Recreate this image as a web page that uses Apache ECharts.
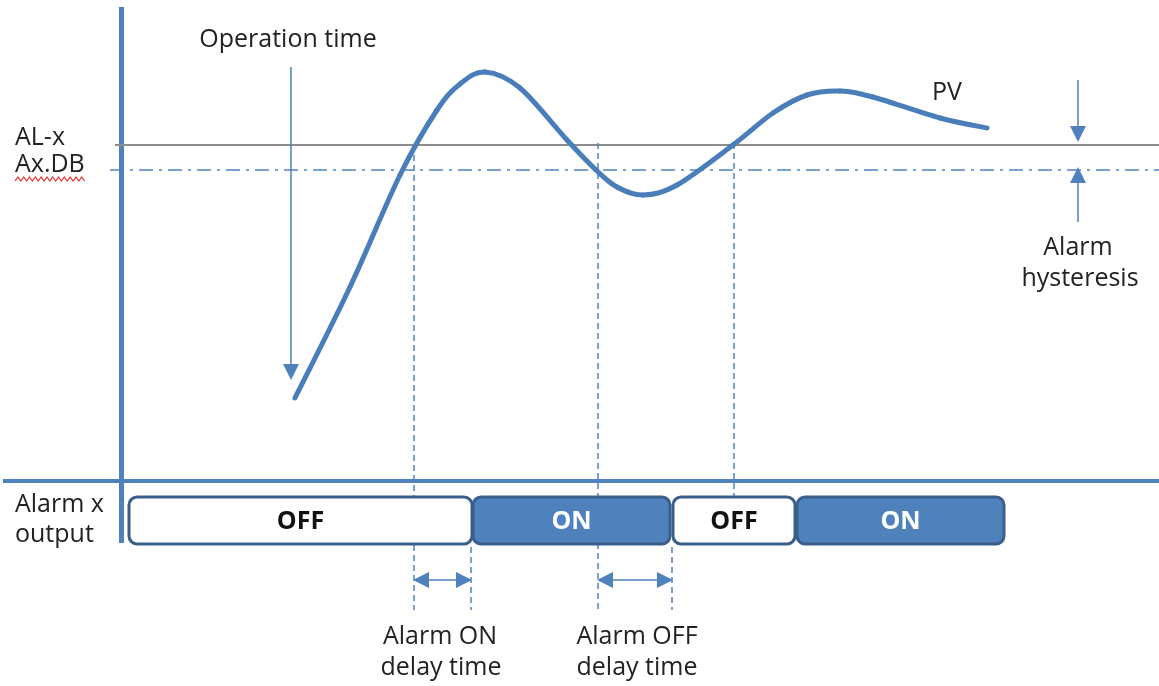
<!DOCTYPE html>
<html><head><meta charset="utf-8">
<script src="https://cdn.jsdelivr.net/npm/echarts@6/dist/echarts.min.js"></script>
<style>html,body{margin:0;padding:0;background:#fff}#c{width:1159px;height:686px}</style>
</head><body><div id="c"></div>
<script>
// PV curve (pixel-like units, y grows downward)
const pvX = [295, 350, 400, 437, 460, 485, 520, 567, 596, 617, 643, 677, 733, 773, 807, 840, 873, 940, 987];
const pvY = [398, 287, 175, 110, 84, 72, 88, 140, 170, 187, 195, 185, 145, 113, 95, 91, 97, 118, 128];
// levels
const alarmLevel = 145;      // AL-x
const hysteresisLevel = 170; // Ax.DB
// alarm output segments
const segStart = [129, 473, 673, 797];
const segEnd = [472, 670, 795, 1004];
const segState = ['OFF', 'ON', 'OFF', 'ON'];
// event times (vertical dashed lines)
const onCross = 414, onOut = 471, offCross = 598, offOut = 672, reCross = 734;

const BLUE = '#4f81bd', DARK = '#3a5f8c', PVC = '#4a7ebb';
const FONT = '"Open Sans", "DejaVu Sans", sans-serif';

const chart = echarts.init(document.getElementById('c'), null, {renderer: 'canvas'});

function ln(coords, style, symbol) {
  return {coords: coords, lineStyle: style, symbol: symbol || ['none', 'none']};
}
const dash = {color: BLUE, width: 1.5, type: [6, 4], opacity: 1};
const thin = {color: BLUE, width: 1.5, opacity: 1};

function txt(text, x, y, align) {
  return {type: 'text', x: x, y: y, style: {text: text, font: '25px ' + FONT, fill: '#222', align: align || 'center', verticalAlign: 'middle'}};
}

// red spell-check squiggle under Ax.DB
const squig = [];
for (let i = 0; i <= 24; i++) squig.push([15 + i * 2.9, 179 + (i % 2 ? -2 : 2)]);

function pvPoint(i, api) {
  const k = Math.max(0, Math.min(pvX.length - 1, i));
  return api.coord([pvX[k], pvY[k]]);
}

chart.setOption({
  animation: false,
  grid: {left: 0, right: 0, top: 0, bottom: 0, containLabel: false},
  xAxis: {type: 'value', min: 0, max: 1159, show: false},
  yAxis: {type: 'value', min: 0, max: 686, inverse: true, show: false},
  series: [
    {
      type: 'lines', coordinateSystem: 'cartesian2d', polyline: false, z: 1,
      data: [
        ln([[3, 481], [1159, 481]], {color: BLUE, width: 4, opacity: 1}),
        ln([[121, 7], [121, 543]], {color: BLUE, width: 5, opacity: 1}),
        ln([[115, alarmLevel], [1159, alarmLevel]], {color: '#8c8c8c', width: 2, opacity: 1}),
        ln([[110, hysteresisLevel], [1159, hysteresisLevel]], {color: BLUE, width: 1.5, type: [14, 6, 3, 6], opacity: 1}),
        ln([[onCross, 155], [onCross, 610]], dash),
        ln([[onOut, 547], [onOut, 610]], dash),
        ln([[offCross, 143], [offCross, 610]], dash),
        ln([[offOut, 547], [offOut, 610]], dash),
        ln([[reCross, 143], [reCross, 497]], dash)
      ]
    },
    {
      type: 'lines', coordinateSystem: 'cartesian2d', polyline: false, z: 3,
      symbolSize: 16,
      data: [
        ln([[291, 67], [291, 372]], thin, ['none', 'triangle']),
        ln([[1078, 80], [1078, 134]], thin, ['none', 'triangle']),
        ln([[1078, 222], [1078, 175]], thin, ['none', 'triangle']),
        ln([[421, 580], [464, 580]], thin, ['triangle', 'triangle']),
        ln([[605, 580], [665, 580]], thin, ['triangle', 'triangle'])
      ]
    },
    {
      // PV curve: Catmull-Rom spline through the read points, placed via the axes
      type: 'custom', name: 'PV', z: 4,
      data: pvX.map((x, i) => [x, pvY[i]]),
      encode: {x: 0, y: 1},
      renderItem: function (params, api) {
        const i = params.dataIndex;
        if (i >= pvX.length - 1) return null;
        const p0 = pvPoint(i - 1, api), p1 = pvPoint(i, api), p2 = pvPoint(i + 1, api), p3 = pvPoint(i + 2, api);
        return {
          type: 'bezierCurve',
          shape: {
            x1: p1[0], y1: p1[1], x2: p2[0], y2: p2[1],
            cpx1: p1[0] + (p2[0] - p0[0]) / 6, cpy1: p1[1] + (p2[1] - p0[1]) / 6,
            cpx2: p2[0] - (p3[0] - p1[0]) / 6, cpy2: p2[1] - (p3[1] - p1[1]) / 6
          },
          style: {stroke: PVC, lineWidth: 5, fill: null, lineCap: 'round'}
        };
      }
    },
    {
      type: 'custom', z: 5,
      data: segStart.map((s, i) => [s, segEnd[i]]),
      encode: {x: [0, 1]},
      renderItem: function (params, api) {
        const a = api.coord([api.value(0), 497]);
        const b = api.coord([api.value(1), 544]);
        const on = segState[params.dataIndex] === 'ON';
        return {
          type: 'group',
          children: [
            {type: 'rect', shape: {x: a[0], y: a[1], width: b[0] - a[0], height: b[1] - a[1], r: 8},
             style: {fill: on ? BLUE : '#fff', stroke: DARK, lineWidth: 3}},
            {type: 'text', style: {text: segState[params.dataIndex], x: (a[0] + b[0]) / 2, y: (a[1] + b[1]) / 2 + 1,
             align: 'center', verticalAlign: 'middle', font: 'bold 25px ' + FONT, fill: on ? '#fff' : '#111'}}
          ]
        };
      }
    }
  ],
  graphic: [
    txt('Operation time', 288, 40),
    txt('AL-x', 15, 138, 'left'),
    txt('Ax.DB', 15, 165, 'left'),
    {type: 'polyline', shape: {points: squig}, style: {stroke: '#e03030', lineWidth: 1.2, fill: null}},
    txt('PV', 947, 93),
    txt('Alarm', 1078, 248),
    txt('hysteresis', 1080, 279),
    txt('Alarm x', 15, 505, 'left'),
    txt('output', 15, 535, 'left'),
    txt('Alarm ON', 440, 637),
    txt('delay time', 441, 668),
    txt('Alarm OFF', 637, 637),
    txt('delay time', 637, 668)
  ]
});
</script></body></html>
